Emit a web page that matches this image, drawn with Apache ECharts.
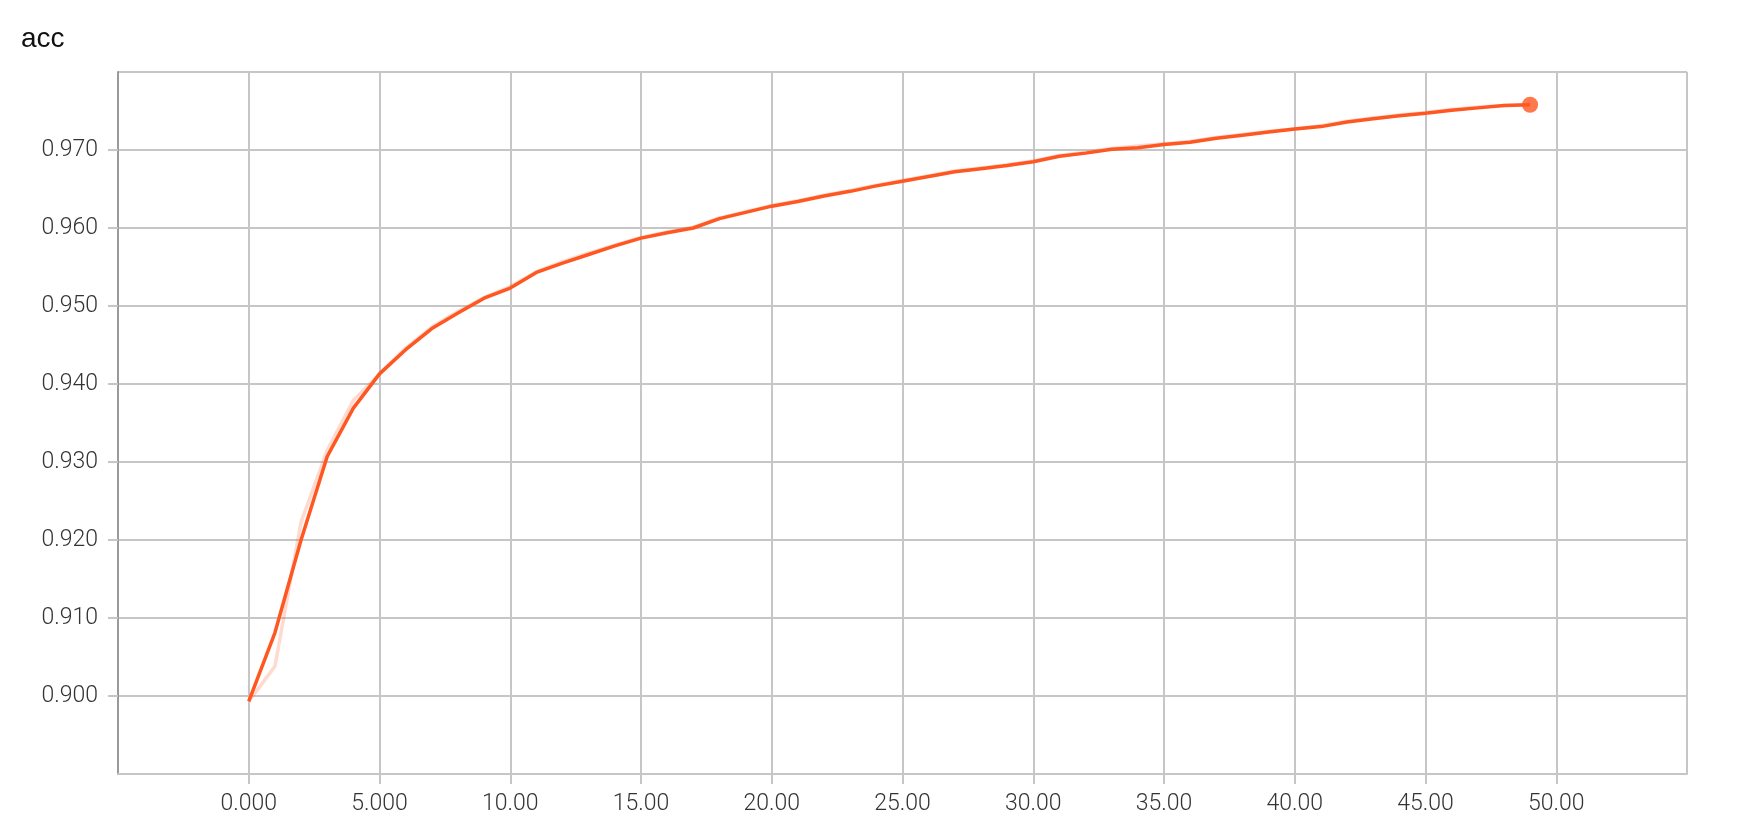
<!DOCTYPE html>
<html>
<head>
<meta charset="utf-8">
<title>acc</title>
<script src="https://cdn.jsdelivr.net/npm/echarts@6.0.0/dist/echarts.min.js"></script>
<style>
  html, body {
    margin: 0;
    padding: 0;
    background: #fff;
  }
  #main {
    width: 1752px;
    height: 828px;
  }
</style>
</head>
<body>
<div id="main"></div>
<script>
// epochs
var steps = [
  0, 1, 2, 3, 4, 5, 6, 7, 8, 9,
  10, 11, 12, 13, 14, 15, 16, 17, 18, 19,
  20, 21, 22, 23, 24, 25, 26, 27, 28, 29,
  30, 31, 32, 33, 34, 35, 36, 37, 38, 39,
  40, 41, 42, 43, 44, 45, 46, 47, 48, 49
]

// smoothed accuracy (the bold line)
var smoothed = [
  0.8993, 0.9081, 0.9200, 0.9307, 0.9369, 0.9413, 0.9444, 0.9471, 0.9491, 0.9510,
  0.9523, 0.9543, 0.9555, 0.9566, 0.9577, 0.9587, 0.9594, 0.9600, 0.9612, 0.9620,
  0.9628, 0.9634, 0.9641, 0.9647, 0.9654, 0.9660, 0.9666, 0.9672, 0.9676, 0.9680,
  0.9685, 0.9692, 0.9696, 0.9701, 0.9703, 0.9707, 0.9710, 0.9715, 0.9719, 0.9723,
  0.9727, 0.9730, 0.9736, 0.9740, 0.9744, 0.9747, 0.9751, 0.9754, 0.9757, 0.9758
]

// raw accuracy (the faint line)
var raw = [
  0.8993, 0.9038, 0.9223, 0.9315, 0.9379, 0.9413, 0.9446, 0.9473, 0.9493, 0.9511,
  0.9525, 0.9544, 0.9557, 0.9568, 0.9578, 0.9588, 0.9595, 0.9601, 0.9613, 0.9621,
  0.9629, 0.9635, 0.9642, 0.9648, 0.9655, 0.9661, 0.9667, 0.9673, 0.9677, 0.9681,
  0.9686, 0.9693, 0.9697, 0.9702, 0.9705, 0.9708, 0.9711, 0.9716, 0.9720, 0.9724,
  0.9727, 0.9731, 0.9737, 0.9741, 0.9745, 0.9748, 0.9752, 0.9755, 0.9757, 0.9758
]

var chartTitle = 'acc'
var lineColor = '#ff5722'
var gridColor = '#c6c6c6'
var labelFont = 'Roboto, "Liberation Sans", sans-serif'

function pairs (xs, ys) {
  return xs.map(function (x, i) {
    return [x, ys[i]]
  })
}

var last = steps.length - 1

var chart = echarts.init(document.getElementById('main'), null, { renderer: 'canvas' })

var option = {
  animation: false,
  backgroundColor: '#fff',
  title: {
    text: chartTitle,
    left: 16,
    top: 20,
    textStyle: {
      color: '#111',
      fontSize: 28,
      fontWeight: 'normal',
      fontFamily: '"Liberation Sans", sans-serif'
    }
  },
  grid: {
    left: 118,
    top: 72,
    width: 1569,
    height: 702
  },
  xAxis: {
    type: 'value',
    min: -5,
    max: 55,
    interval: 5,
    axisLine: {
      show: true,
      onZero: false,
      lineStyle: { color: gridColor, width: 2 }
    },
    axisTick: {
      show: true,
      length: 10,
      lineStyle: { color: gridColor, width: 2 }
    },
    splitLine: {
      show: true,
      lineStyle: { color: gridColor, width: 2 }
    },
    axisLabel: {
      showMinLabel: false,
      showMaxLabel: false,
      margin: 19,
      color: '#333',
      fontSize: 23,
      fontWeight: 300,
      fontFamily: labelFont,
      formatter: function (v) {
        return Number(v).toPrecision(4)
      }
    }
  },
  yAxis: {
    type: 'value',
    min: 0.89,
    max: 0.98,
    interval: 0.01,
    axisLine: {
      show: true,
      onZero: false,
      lineStyle: { color: '#9a9a9a', width: 2 }
    },
    axisTick: {
      show: true,
      length: 10,
      lineStyle: { color: gridColor, width: 2 }
    },
    splitLine: {
      show: true,
      lineStyle: { color: gridColor, width: 2 }
    },
    axisLabel: {
      showMinLabel: false,
      showMaxLabel: false,
      margin: 20,
      color: '#333',
      fontSize: 23,
      fontWeight: 300,
      fontFamily: labelFont,
      formatter: function (v) {
        return Number(v).toPrecision(3)
      }
    }
  },
  series: [
    {
      name: 'raw',
      type: 'line',
      data: pairs(steps, raw),
      showSymbol: false,
      silent: true,
      lineStyle: { color: lineColor, width: 3.5, opacity: 0.22 },
      z: 2
    },
    {
      name: 'smoothed',
      type: 'line',
      data: pairs(steps, smoothed),
      showSymbol: false,
      lineStyle: { color: lineColor, width: 3.5 },
      z: 3
    },
    {
      name: 'last',
      type: 'scatter',
      data: [[steps[last], smoothed[last]]],
      symbolSize: 16,
      itemStyle: { color: lineColor },
      z: 4
    }
  ]
}

chart.setOption(option)
</script>
</body>
</html>
